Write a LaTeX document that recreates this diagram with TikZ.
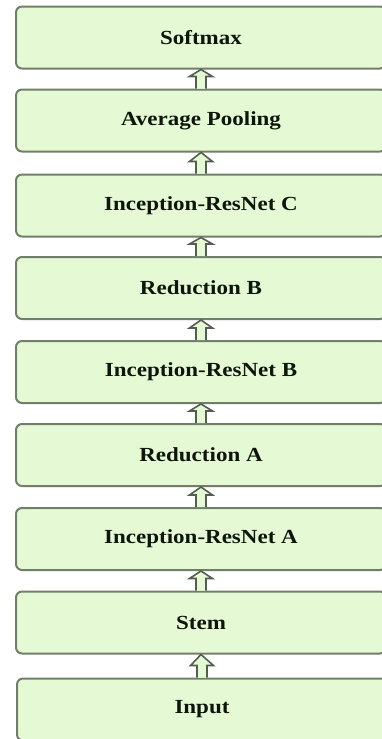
\documentclass[tikz,border=0pt]{standalone}
\usepackage{fontspec}
\setmainfont{Liberation Serif}
\usetikzlibrary{calc}
\definecolor{boxfill}{RGB}{229,250,212}
\definecolor{boxline}{RGB}{112,126,106}
\definecolor{labeltext}{RGB}{14,22,12}
\tikzset{
  layer/.style={draw=boxline, fill=boxfill, line width=2pt, rounded corners=6pt,
    minimum width=370pt, minimum height=62pt, inner sep=0pt,
    text=labeltext, font=\fontsize{20}{24}\selectfont\bfseries},
  uparrow/.style={draw=boxline!75!black, fill=boxfill, line width=1.6pt, line join=miter}
}
\newcommand{\lbl}[1]{\scalebox{1.15}[1]{#1}}
\newcommand{\flow}[2]{%
  \draw[uparrow] ($(#1.north)+(-5,0)$) -- ++(0,-12) -- ++(-6.5,0) -- (#2.south)
    -- ($(#1.north)+(11.5,-12)$) -- ++(-6.5,0) -- ($(#1.north)+(5,0)$);}
\begin{document}
\begin{tikzpicture}[x=1pt,y=-1pt]
  \useasboundingbox[fill=white] (0,0) rectangle (382,739);
  \begin{scope}
    \clip (0,0) rectangle (382,739);
    \node[layer] (softmax) at (201,37.5) {\lbl{Softmax}};
    \node[layer] (avgpool) at (201,120.5) {\lbl{Average Pooling}};
    \node[layer] (irc)     at (201,205.5) {\lbl{Inception-ResNet C}};
    \node[layer] (redb)    at (201,288)   {\lbl{Reduction B}};
    \node[layer] (irb)     at (201,372)   {\lbl{Inception-ResNet B}};
    \node[layer] (reda)    at (201,455)   {\lbl{Reduction A}};
    \node[layer] (ira)     at (201,539)   {\lbl{Inception-ResNet A}};
    \node[layer] (stem)    at (201,622.5) {\lbl{Stem}};
    \node[layer] (input)   at (202,709.5) {\lbl{Input}};
    \flow{avgpool}{softmax}
    \flow{irc}{avgpool}
    \flow{redb}{irc}
    \flow{irb}{redb}
    \flow{reda}{irb}
    \flow{ira}{reda}
    \flow{stem}{ira}
    \flow{input}{stem}
  \end{scope}
\end{tikzpicture}
\end{document}
